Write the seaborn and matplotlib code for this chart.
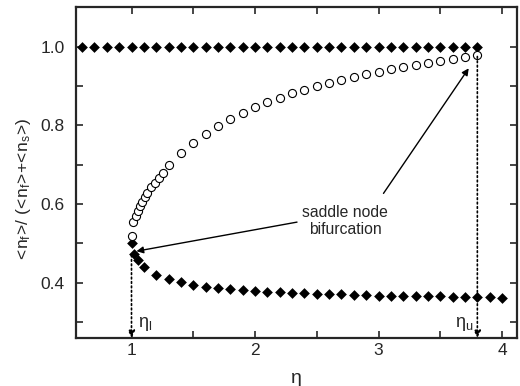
import numpy as np
import pandas as pd
import matplotlib.pyplot as plt
import seaborn as sns
from matplotlib.ticker import MultipleLocator

# upper stable branch (filled diamonds at 1.0)
upper_eta = [round(0.6 + 0.1 * i, 1) for i in range(33)]
upper_val = [1.0] * len(upper_eta)

# lower stable branch (filled diamonds)
lower_eta = [1.0, 1.02, 1.05, 1.1, 1.2, 1.3, 1.4, 1.5, 1.6, 1.7, 1.8, 1.9, 2.0,
             2.1, 2.2, 2.3, 2.4, 2.5, 2.6, 2.7, 2.8, 2.9, 3.0, 3.1, 3.2, 3.3,
             3.4, 3.5, 3.6, 3.7, 3.8, 3.9, 4.0]
lower_val = [0.500, 0.472, 0.458, 0.440, 0.420, 0.409, 0.401, 0.395, 0.390,
             0.387, 0.384, 0.381, 0.379, 0.377, 0.376, 0.374, 0.373, 0.372,
             0.371, 0.370, 0.369, 0.368, 0.367, 0.367, 0.366, 0.366, 0.365,
             0.365, 0.364, 0.364, 0.363, 0.363, 0.362]

# unstable branch (open circles)
unst_eta = [1.0, 1.016, 1.033, 1.054, 1.07, 1.087, 1.106, 1.125, 1.16, 1.19,
            1.22, 1.255, 1.3, 1.4, 1.5, 1.6, 1.7, 1.8, 1.9, 2.0, 2.1, 2.2, 2.3,
            2.4, 2.5, 2.6, 2.7, 2.8, 2.9, 3.0, 3.1, 3.2, 3.3, 3.4, 3.5, 3.6,
            3.7, 3.8]
unst_val = [0.519, 0.555, 0.569, 0.582, 0.594, 0.605, 0.618, 0.628, 0.643,
            0.654, 0.666, 0.679, 0.700, 0.729, 0.755, 0.778, 0.798, 0.817,
            0.832, 0.846, 0.859, 0.870, 0.881, 0.891, 0.900, 0.907, 0.915,
            0.922, 0.930, 0.936, 0.942, 0.948, 0.954, 0.959, 0.964, 0.969,
            0.974, 0.979]

eta_l, eta_u = 1.0, 3.8

sns.set_style("ticks")
plt.rcParams['font.family'] = ['Liberation Sans', 'DejaVu Sans']
plt.rcParams['mathtext.fontset'] = 'custom'
plt.rcParams['mathtext.rm'] = 'Liberation Sans'
plt.rcParams['mathtext.it'] = 'Liberation Sans'

fig = plt.figure(figsize=(5.2, 3.86), dpi=100)
ax = fig.add_axes([0.146, 0.125, 0.848, 0.856])

up = pd.DataFrame({'eta': upper_eta, 'val': upper_val})
lo = pd.DataFrame({'eta': lower_eta, 'val': lower_val})
un = pd.DataFrame({'eta': unst_eta, 'val': unst_val})

sns.scatterplot(data=up, x='eta', y='val', marker='D', s=30, color='black',
                edgecolor='black', linewidth=0, ax=ax, zorder=3)
sns.scatterplot(data=lo, x='eta', y='val', marker='D', s=30, color='black',
                edgecolor='black', linewidth=0, ax=ax, zorder=3)
sns.scatterplot(data=un, x='eta', y='val', marker='o', s=34, facecolor='white',
                edgecolor='black', linewidth=0.8, ax=ax, zorder=3)

ax.set_xlim(0.55, 4.12)
ax.set_ylim(0.26, 1.1)

# dotted drop lines with arrows
for xv, ytop in [(eta_l, 0.47), (eta_u, 0.975)]:
    ax.annotate('', xy=(xv, 0.26), xytext=(xv, ytop),
                arrowprops=dict(arrowstyle='-|>', linestyle=':', lw=1.2,
                                color='black', mutation_scale=10,
                                shrinkA=0, shrinkB=0))
ax.text(1.05, 0.272, r'$\eta_\mathregular{l}$', fontsize=13, ha='left', va='bottom')
ax.text(3.77, 0.272, r'$\eta_\mathregular{u}$', fontsize=13, ha='right', va='bottom')

ax.text(2.73, 0.556, 'saddle node\nbifurcation', ha='center', va='center',
        fontsize=11.3, linespacing=1.15)
arrow = dict(arrowstyle='-|>', lw=1.0, color='black', mutation_scale=10,
             shrinkA=0, shrinkB=0)
ax.annotate('', xy=(1.04, 0.48), xytext=(2.34, 0.554), arrowprops=arrow)
ax.annotate('', xy=(3.73, 0.945), xytext=(3.04, 0.627), arrowprops=arrow)

ax.xaxis.set_major_locator(MultipleLocator(1))
ax.xaxis.set_minor_locator(MultipleLocator(0.5))
ax.yaxis.set_major_locator(MultipleLocator(0.2))
ax.yaxis.set_minor_locator(MultipleLocator(0.1))
ax.tick_params(which='both', direction='in', top=True, right=True,
               length=5, width=1.2, labelsize=12.5)
ax.tick_params(axis='y', pad=8)
ax.tick_params(axis='x', pad=4)
for sp in ax.spines.values():
    sp.set_linewidth(1.6)
    sp.set_visible(True)

ax.set_xlabel('η', fontsize=14)
ax.set_ylabel(r'$\mathregular{\!<\!n_f\!>\!/\ (\!<\!n_f\!>\!{+}\!<\!n_s\!>\!)}$',
              fontsize=12.5)
ax.xaxis.set_label_coords(0.5, -0.098)
ax.yaxis.set_label_coords(-0.097, 0.45)

fig.savefig('out.png', dpi=100)
